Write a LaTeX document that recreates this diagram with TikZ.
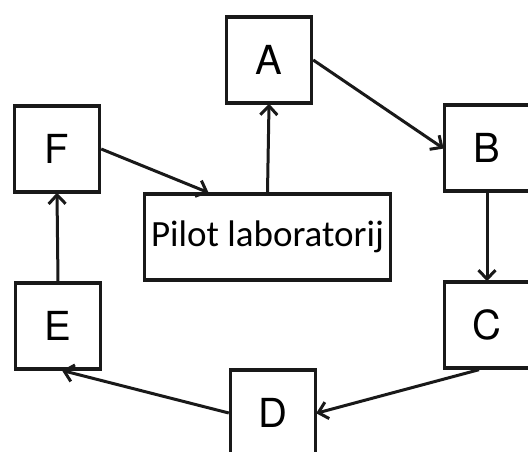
\documentclass[tikz,border=0pt]{standalone}
\usepackage{fontspec}
\setmainfont{TeX Gyre Heros}
\newfontfamily\calib{Carlito}
\usetikzlibrary{arrows.meta,calc}
\tikzset{
  box/.style={draw=black!90, line width=3.4pt, fill=white, minimum width=85pt, minimum height=86pt, inner sep=0pt, font=\fontsize{40}{40}\selectfont},
  bigbox/.style={box, minimum width=246pt, minimum height=86pt, font=\calib\fontsize{37}{37}\selectfont},
  conn/.style={draw=black!90, line width=3pt, -{Straight Barb[length=9pt,width=17pt,line width=3pt]}, shorten >=-1pt}
}
\begin{document}
\begin{tikzpicture}[x=1pt,y=-1pt]
\useasboundingbox (0,0) rectangle (528,452);
\clip (0,0) rectangle (528,452);
\node[box] (A) at (269,60) {A};
\node[box] (B) at (487,148) {B};
\node[box] (C) at (487,325) {C};
\node[box] (D) at (273,413) {D};
\node[box] (E) at (58,326) {E};
\node[box] (F) at (57,149) {F};
\node[bigbox] (P) at (267.5,237) {Pilot laboratorij};
\coordinate (Pin) at ($(P.north west)!0.26!(P.north east)$);
\draw[conn] (A.east) -- (B.west);
\draw[conn] (B.south) -- (C.north);
\draw[conn] ([xshift=-8pt]C.south) -- (D.east);
\draw[conn] (D.west) -- ([xshift=5pt]E.south);
\draw[conn] (E.north) -- (F.south);
\draw[conn] (F.east) -- (Pin);
\draw[conn] (P.north) -- (A.south);
\end{tikzpicture}
\end{document}
